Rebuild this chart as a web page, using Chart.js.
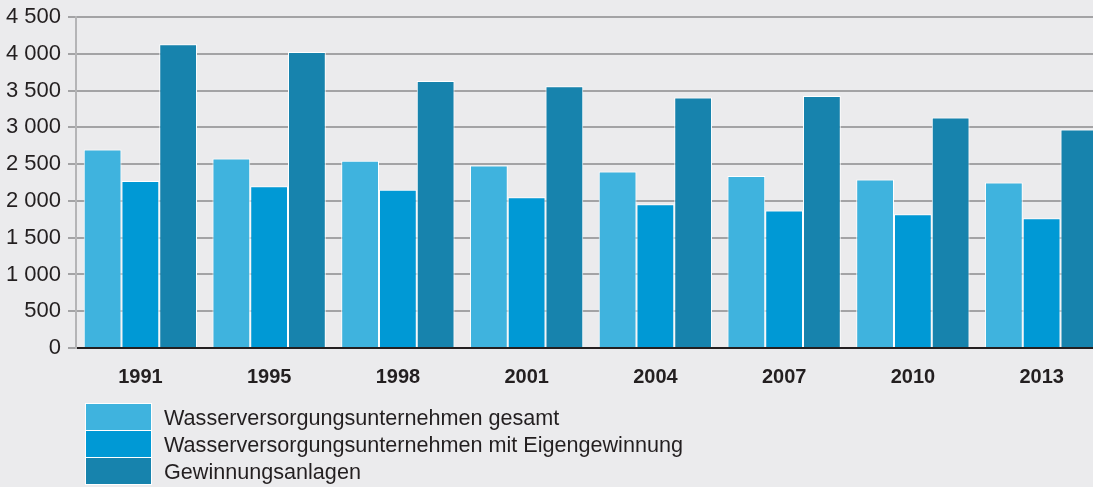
<!DOCTYPE html>
<html lang="de">
<head>
<meta charset="utf-8">
<script src="https://cdn.jsdelivr.net/npm/chart.js@4.4.1/dist/chart.umd.min.js"></script>
<style>
  html, body { margin: 0; padding: 0; background: #ebebed; overflow: hidden; }
  #wrap { position: relative; width: 1093px; height: 487px; overflow: hidden; }
  #wrap canvas { position: absolute; left: 0; top: 0; }
</style>
</head>
<body>
<div id="wrap"><canvas id="wasserChart" width="1106" height="487"></canvas></div>
<script>
// Jahre
var years = ['1991', '1995', '1998', '2001', '2004', '2007', '2010', '2013'];

// Werte je Reihe
var wvuGesamt = [2700, 2575, 2545, 2480, 2400, 2340, 2290, 2250];
var wvuEigen = [2270, 2200, 2150, 2050, 1955, 1870, 1820, 1765];
var anlagen = [4130, 4025, 3630, 3560, 3405, 3425, 3135, 2970];

var seriesNames = [
    'Wasserversorgungsunternehmen gesamt',
    'Wasserversorgungsunternehmen mit Eigengewinnung',
    'Gewinnungsanlagen'
];
var seriesColors = ['#3fb3de', '#0099d5', '#1783ad'];

var yTicks = [0, 500, 1000, 1500, 2000, 2500, 3000, 3500, 4000, 4500];

var fontFamily = '"Liberation Sans", Arial, Helvetica, sans-serif';

function formatNumber(v) {
    return String(v).replace(/\B(?=(\d{3})+(?!\d))/g, ' ');
}

// Legende unten, untereinander
var legendPlugin = {
    id: 'stackedLegend',
    afterDraw: function(chart) {
        var ctx = chart.ctx;
        var x = 86, y = 404, boxW = 65, boxH = 26;
        ctx.save();
        chart.data.datasets.forEach(function(ds, i) {
            var top = y + i * (boxH + 1);
            ctx.fillStyle = '#ffffff';
            ctx.fillRect(x - 1, top - 1, boxW + 2, boxH + 2);
            ctx.fillStyle = ds.backgroundColor;
            ctx.fillRect(x, top, boxW, boxH);
            ctx.fillStyle = '#231f20';
            ctx.font = '21.6px ' + fontFamily;
            ctx.textBaseline = 'middle';
            ctx.textAlign = 'left';
            ctx.fillText(ds.label, 164, top + boxH / 2 + 2);
        });
        ctx.restore();
    }
};

var ctx = document.getElementById('wasserChart').getContext('2d');
var chart = new Chart(ctx, {
    type: 'bar',
    data: {
        labels: years,
        datasets: [
            { label: seriesNames[0], data: wvuGesamt, backgroundColor: seriesColors[0] },
            { label: seriesNames[1], data: wvuEigen, backgroundColor: seriesColors[1] },
            { label: seriesNames[2], data: anlagen, backgroundColor: seriesColors[2] }
        ]
    },
    options: {
        responsive: false,
        animation: false,
        layout: { padding: { top: 17, right: 0, bottom: 0, left: 0 } },
        datasets: {
            bar: {
                categoryPercentage: 0.88,
                barPercentage: 1.0,
                borderColor: '#ffffff',
                borderWidth: 1
            }
        },
        plugins: {
            legend: { display: false },
            tooltip: { enabled: false }
        },
        scales: {
            x: {
                grid: { display: false },
                border: { display: true, color: '#231f20', width: 2 },
                ticks: {
                    color: '#231f20',
                    padding: 9,
                    font: { family: fontFamily, size: 20, weight: 'bold' }
                },
                afterFit: function(scale) { scale.height = 139; }
            },
            y: {
                min: 0,
                max: 4500,
                afterBuildTicks: function(scale) {
                    scale.ticks = yTicks.map(function(v) { return { value: v }; });
                },
                grid: {
                    color: '#a3a3a5',
                    lineWidth: 2,
                    tickLength: 8
                },
                border: { display: true, color: '#b4b4b6', width: 2 },
                ticks: {
                    color: '#231f20',
                    padding: 7,
                    font: { family: fontFamily, size: 22 },
                    callback: function(v) { return formatNumber(v); }
                },
                afterFit: function(scale) {
                    scale.width = 76;
                    scale.paddingTop = 0;
                    scale.paddingBottom = 0;
                }
            }
        }
    },
    plugins: [legendPlugin]
});
</script>
</body>
</html>
